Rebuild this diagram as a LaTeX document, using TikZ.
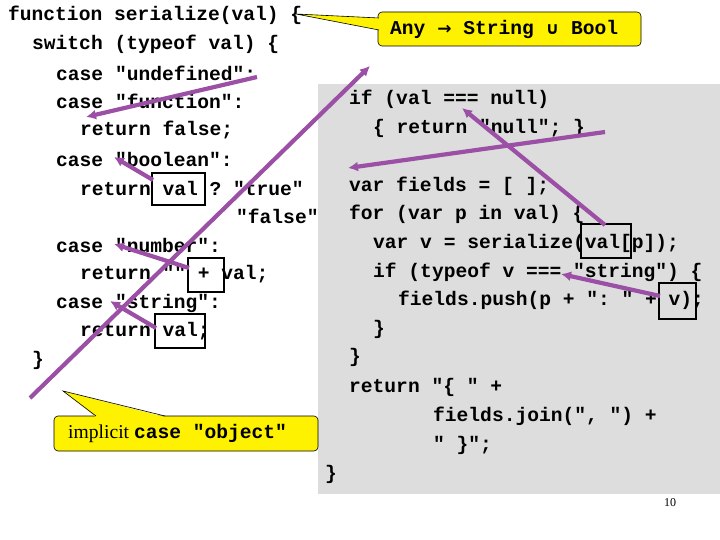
\documentclass[tikz,border=0pt]{standalone}
\usepackage{fontspec}
\usetikzlibrary{arrows.meta}
\setmonofont{Liberation Mono}
\setmainfont{Liberation Serif}
\newfontfamily\symfont{DejaVu Sans}
\begin{document}
\begin{tikzpicture}[x=1pt,y=-1pt,
  code/.style={anchor=west,inner sep=0pt,font=\ttfamily\bfseries\fontsize{19.6}{20}\selectfont},
  hl/.style={draw=black,line width=1.6pt},
  parrow/.style={draw={rgb,255:red,155;green,80;blue,165},line width=4.2pt,-{Latex[length=10pt,width=10pt]}},
  callout/.style={fill=yellow,draw=black,line width=0.6pt}]
\useasboundingbox (0,0) rectangle (720,540);
\fill[fill={rgb,255:red,221;green,221;blue,221}] (318,84) rectangle (720,494);
% left code
\node[code] (l1) at (8,15) {function serialize(val) \{};
\node[code] (l2) at (32,44) {switch (typeof val) \{};
\node[code] (l3) at (56,73) {case "undefined":};
\node[code] (l4) at (56,101) {case "function":};
\node[code] (l5) at (80,130) {return false;};
\node[code] (l6) at (56,159) {case "boolean":};
\node[code] (l7) at (80,188) {return val ? "true"};
\node[code] (l8) at (236,216) {"false"};
\node[code] (l9) at (56,245) {case "number":};
\node[code] (l10) at (80,274) {return "" + val;};
\node[code] (l11) at (56,303) {case "string":};
\node[code] (l12) at (80,331) {return val;};
\node[code] (l13) at (32,360) {\}};
% right code
\node[code] (r1) at (349,99) {if (val === null)};
\node[code] (r2) at (373,128) {\{ return "null"; \}};
\node[code] (r3) at (349,186) {var fields = [ ];};
\node[code] (r4) at (349,214) {for (var p in val) \{};
\node[code] (r5) at (373,243) {var v = serialize(val[p]);};
\node[code] (r6) at (373,272) {if (typeof v === "string") \{};
\node[code] (r7) at (398,300) {fields.push(p + ": " + v);};
\node[code] (r8) at (373,329) {\}};
\node[code] (r9) at (349,357) {\}};
\node[code] (r10) at (349,387) {return "\{ " +};
\node[code] (r11) at (433,416) {fields.join(", ") +};
\node[code] (r12) at (433,445) {" \}";};
\node[code] (r13) at (325,474) {\}};
% highlight boxes
\draw[hl] (152,173) rectangle (205,205);
\coordinate (b1s) at (153,180);
\draw[hl] (188,258) rectangle (224,292);
\coordinate (b2s) at (189,268);
\draw[hl] (155,314) rectangle (205,348);
\coordinate (b3s) at (156,328);
\draw[hl] (581,224) rectangle (631,258);
\coordinate (b4s) at (605,225);
\draw[hl] (659,283) rectangle (696,319);
\coordinate (b5s) at (660,296);
% callouts
\draw[callout,rounded corners=4pt] (378,12) rectangle (641,46);
\fill[yellow] (296,14) -- (379,18) -- (379,30) -- cycle;
\draw[line width=0.6pt] (379,18) -- (296,14) -- (379,30);
\node[code] (c1) at (390,29) {Any {\symfont\bfseries\fontsize{17}{20}\selectfont →} String {\symfont\bfseries\fontsize{17}{20}\selectfont ∪} Bool};
\draw[callout,rounded corners=4pt] (54,416) rectangle (318,451);
\fill[yellow] (96,417) -- (63,391) -- (165,417) -- cycle;
\draw[line width=0.6pt] (96,416) -- (63,391) -- (165,416);
\node[anchor=west,inner sep=0pt] (c2) at (68,433) {\fontsize{19.6}{20}\selectfont implicit \ttfamily\bfseries case "object"};
\node[anchor=center,inner sep=0pt,font=\fontsize{12}{12}\selectfont] (pg) at (670,503) {10};
% arrow coordinates
\coordinate (a1s) at (257,77); \coordinate (a1e) at (86,117);
\coordinate (a2e) at (114,157);
\coordinate (a3s) at (30,398); \coordinate (a3e) at (370,66);
\coordinate (a4e) at (114,244);
\coordinate (a5e) at (110,301);
\coordinate (a6s) at (605,132); \coordinate (a6e) at (348,168);
\coordinate (a7e) at (462,108);
\coordinate (a8e) at (561,274);
\draw[parrow] (a1s) -- (a1e);
\draw[parrow] (b1s) -- (a2e);
\draw[parrow] (a3s) -- (a3e);
\draw[parrow] (b2s) -- (a4e);
\draw[parrow] (b3s) -- (a5e);
\draw[parrow] (a6s) -- (a6e);
\draw[parrow] (b4s) -- (a7e);
\draw[parrow] (b5s) -- (a8e);
\end{tikzpicture}
\end{document}
